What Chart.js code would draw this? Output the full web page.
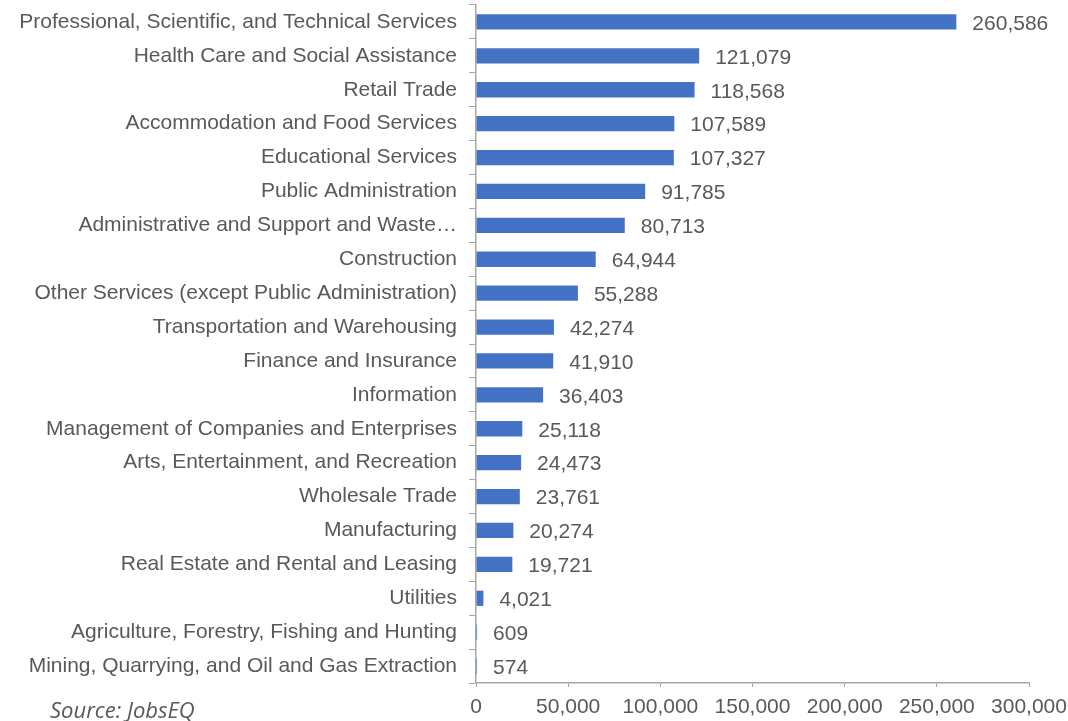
<!DOCTYPE html>
<html>
<head>
<meta charset="utf-8">
<script src="https://cdn.jsdelivr.net/npm/chart.js@4/dist/chart.umd.min.js"></script>
<style>
  html, body { margin: 0; padding: 0; background: #fff; }
  #wrap { position: relative; width: 1068px; height: 721px; }
  #source { position: absolute; left: 50px; top: 696px; font-family: "Open Sans", sans-serif; font-style: italic; font-size: 22px; color: #595959; line-height: 26px; }
</style>
</head>
<body>
<div id="wrap">
  <canvas id="c" width="1068" height="721"></canvas>
  <div id="source">Source: JobsEQ</div>
</div>
<script>
const categories = [
  "Professional, Scientific, and Technical Services",
  "Health Care and Social Assistance",
  "Retail Trade",
  "Accommodation and Food Services",
  "Educational Services",
  "Public Administration",
  "Administrative and Support and Waste…",
  "Construction",
  "Other Services (except Public Administration)",
  "Transportation and Warehousing",
  "Finance and Insurance",
  "Information",
  "Management of Companies and Enterprises",
  "Arts, Entertainment, and Recreation",
  "Wholesale Trade",
  "Manufacturing",
  "Real Estate and Rental and Leasing",
  "Utilities",
  "Agriculture, Forestry, Fishing and Hunting",
  "Mining, Quarrying, and Oil and Gas Extraction"
];
const employment = [260586, 121079, 118568, 107589, 107327, 91785, 80713, 64944, 55288, 42274, 41910, 36403, 25118, 24473, 23761, 20274, 19721, 4021, 609, 574];
const xTicks = [0, 50000, 100000, 150000, 200000, 250000, 300000];

const fmt = v => v.toLocaleString('en-US');
const FONT = "'Liberation Sans', Arial, Helvetica, sans-serif";

const valueLabels = {
  id: 'valueLabels',
  afterDatasetsDraw(chart) {
    const ctx = chart.ctx;
    const meta = chart.getDatasetMeta(0);
    ctx.save();
    ctx.font = '21px ' + FONT;
    ctx.fillStyle = '#595959';
    ctx.textAlign = 'left';
    ctx.textBaseline = 'middle';
    meta.data.forEach((bar, i) => {
      ctx.fillText(fmt(employment[i]), bar.x + 16, bar.y + 2);
    });
    ctx.restore();
  }
};

new Chart(document.getElementById('c'), {
  type: 'bar',
  data: {
    labels: categories,
    datasets: [{
      data: employment,
      backgroundColor: '#4472C4',
      borderWidth: 0,
      categoryPercentage: 1.0,
      barPercentage: 0.45
    }]
  },
  options: {
    indexAxis: 'y',
    responsive: false,
    animation: false,
    layout: { padding: { left: 0, right: 39, top: 5, bottom: 0 } },
    plugins: { legend: { display: false }, tooltip: { enabled: false } },
    scales: {
      x: {
        min: 0, max: 300000,
        afterBuildTicks(scale) { scale.ticks = xTicks.map(v => ({ value: v })); },
        ticks: {
          font: { family: FONT, size: 21 },
          color: '#595959',
          padding: 8,
          maxRotation: 0,
          callback: v => fmt(v)
        },
        grid: { drawOnChartArea: false, drawTicks: true, tickLength: 4, color: '#A6A6A6', tickColor: '#A6A6A6' },
        border: { color: '#A6A6A6', width: 1.5 },
        afterFit(scale) { scale.height = 38; scale.paddingLeft = 0; scale.paddingRight = 0; }
      },
      y: {
        ticks: {
          font: { family: FONT, size: 21 },
          color: '#595959',
          padding: 12,
          autoSkip: false
        },
        grid: { drawOnChartArea: false, drawTicks: true, tickLength: 7, offset: true, color: '#A6A6A6', tickColor: '#A6A6A6' },
        border: { color: '#A6A6A6', width: 1.5 },
        afterFit(scale) { scale.width = 476; scale.paddingTop = 0; scale.paddingBottom = 0; }
      }
    }
  },
  plugins: [valueLabels]
});
</script>
</body>
</html>
